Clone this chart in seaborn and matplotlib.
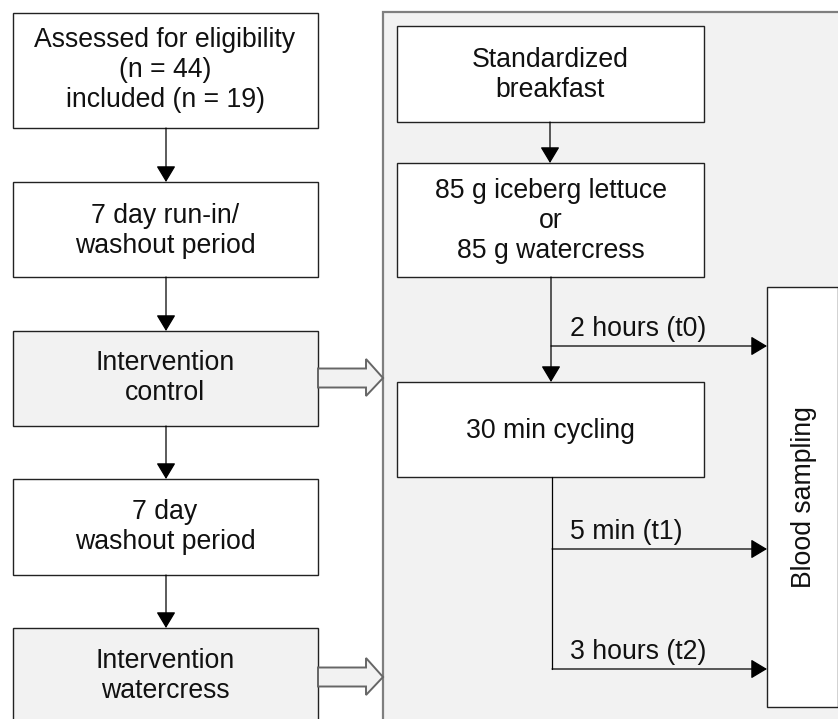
import matplotlib
matplotlib.use('Agg')
import matplotlib.pyplot as plt
from matplotlib.patches import Rectangle, Polygon
import seaborn as sns

# flow chart content
left_labels = ['Assessed for eligibility\n(n = 44)\nincluded (n = 19)',
               '7 day run-in/\nwashout period',
               'Intervention\ncontrol',
               '7 day\nwashout period',
               'Intervention\nwatercress']
right_labels = ['Standardized\nbreakfast',
                '85 g iceberg lettuce\nor\n85 g watercress',
                '30 min cycling']
sample_label = 'Blood sampling'
time_labels = ['2 hours (t0)', '5 min (t1)', '3 hours (t2)']

# layout (pixels, y down)
left_x = (12.5, 317.5)
left_top = [13, 182, 331, 479, 628]
left_bot = [128, 277, 426, 575, 735]
left_text_y = [70, 231, 378, 527, 676]
left_fill = ['white', 'white', '#f2f2f2', 'white', '#f2f2f2']
right_x = (397, 704)
right_top = [26, 163, 382]
right_bot = [122, 277, 477]
time_y = [346, 549, 669]

sns.set_style('white')
plt.rcParams['font.family'] = ['Liberation Sans', 'DejaVu Sans']
FS = 19.2
LS = 1.2

fig = plt.figure(figsize=(8.38, 7.19), dpi=100)
ax = fig.add_axes([0, 0, 1, 1])
ax.set_xlim(0, 838)
ax.set_ylim(719, 0)
ax.axis('off')

# grey panel on the right
ax.add_patch(Rectangle((383, 12), 500, 760, facecolor='#f2f2f2',
                       edgecolor='#7f7f7f', lw=1.6, zorder=1))


def box(x0, x1, y0, y1, fc, ec='#222222'):
    ax.add_patch(Rectangle((x0, y0), x1 - x0, y1 - y0, facecolor=fc,
                           edgecolor=ec, lw=1.0, zorder=2))


def arrow(p0, p1):
    ax.annotate('', xy=p1, xytext=p0,
                arrowprops=dict(arrowstyle='-|>,head_length=0.5,head_width=0.3',
                                color='black', lw=0.9, mutation_scale=20,
                                shrinkA=0, shrinkB=0), zorder=3)


for i, lab in enumerate(left_labels):
    box(left_x[0], left_x[1], left_top[i], left_bot[i], left_fill[i])
    ax.text(sum(left_x) / 2, left_text_y[i], lab, ha='center', va='center',
            fontsize=FS, linespacing=LS, color='#111111', zorder=4)
    if i < len(left_labels) - 1:
        arrow((166, left_bot[i]), (166, left_top[i + 1]))

# hollow arrows into the panel
for yc in [378, 677]:
    pts = [(318, yc - 9.5), (366, yc - 9.5), (366, yc - 19), (383, yc),
           (366, yc + 18), (366, yc + 9.5), (318, yc + 9.5)]
    ax.add_patch(Polygon(pts, closed=True, facecolor='#f2f2f2',
                         edgecolor='#666666', lw=1.4, zorder=3))

for i, lab in enumerate(right_labels):
    box(right_x[0], right_x[1], right_top[i], right_bot[i], 'white')
    ax.text(sum(right_x) / 2, (right_top[i] + right_bot[i]) / 2 + 1, lab,
            ha='center', va='center', fontsize=FS, linespacing=LS,
            color='#111111', zorder=4)

# blood sampling box
box(767, 838, 287, 707, 'white')
ax.text(804, 497, sample_label, rotation=90, ha='center', va='center',
        fontsize=FS, color='#111111', zorder=4)

arrow((550, right_bot[0]), (550, right_top[1]))
arrow((551, right_bot[1]), (551, right_top[2]))
ax.plot([552, 552], [right_bot[2], time_y[2]], color='black', lw=0.9, zorder=3)
for lab, yy in zip(time_labels, time_y):
    x0 = 551 if yy == time_y[0] else 552
    arrow((x0, yy), (767, yy))
    ax.text(570, yy - 17, lab, ha='left', va='center', fontsize=FS,
            color='#111111', zorder=4)

fig.savefig('out.png', dpi=100)
